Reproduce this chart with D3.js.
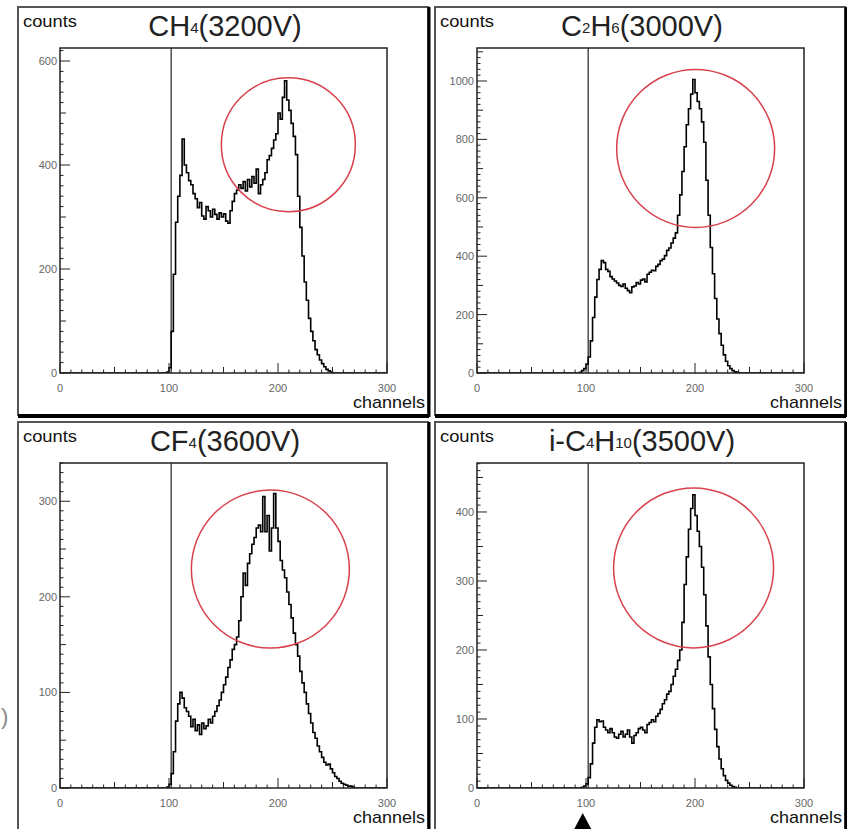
<!DOCTYPE html>
<html>
<head>
<meta charset="utf-8">
<script src="https://cdn.jsdelivr.net/npm/d3@7"></script>
<style>
  body { margin: 0; background: #fff; }
  svg { display: block; font-family: "Liberation Sans", Arial, Helvetica, sans-serif; }
</style>
</head>
<body>
<svg id="chart" width="847" height="829"></svg>
<script>
// Pulse-height spectra for four counting gases, 2-channel bins.
const binWidth = 2;
const channelDomain = [0, 300];
const xTickValues = [0, 100, 200, 300];
const thresholdChannel = 102;

// Counts per bin, starting at the channel given in *Start.
const ch4Start = 96;
const ch4Counts = [0, 2, 10, 80, 190, 290, 340, 380, 450, 400, 385, 370, 362, 345, 335, 318, 328, 302,
  296, 320, 312, 300, 315, 305, 296, 308, 300, 306, 292, 288, 312, 330, 345, 352, 362, 355, 368, 350,
  372, 358, 378, 365, 392, 345, 362, 372, 385, 410, 418, 432, 448, 460, 500, 488, 530, 562, 525, 505,
  480, 455, 420, 340, 280, 225, 175, 140, 105, 80, 62, 45, 35, 25, 18, 12, 7, 4, 2, 0];

const c2h6Start = 94;
const c2h6Counts = [2, 8, 15, 30, 55, 110, 190, 260, 320, 355, 385, 378, 355, 348, 330, 322, 315, 308,
  300, 296, 305, 290, 282, 275, 295, 298, 310, 305, 318, 322, 312, 338, 345, 352, 350, 365, 372, 385,
  390, 402, 420, 428, 445, 462, 480, 540, 610, 690, 775, 850, 905, 955, 1005, 960, 930, 905, 860, 790,
  660, 540, 430, 340, 255, 185, 135, 95, 62, 40, 25, 15, 8, 4, 2, 0];

const cf4Start = 96;
const cf4Counts = [0, 1, 4, 15, 38, 70, 88, 100, 94, 84, 80, 75, 64, 72, 60, 66, 56, 68, 62, 65, 72,
  68, 75, 80, 86, 92, 100, 108, 116, 126, 134, 145, 150, 158, 175, 200, 225, 212, 235, 245, 255, 262,
  272, 275, 268, 305, 268, 285, 248, 272, 308, 272, 258, 238, 228, 220, 205, 192, 178, 162, 150, 138,
  122, 110, 100, 88, 78, 68, 58, 52, 44, 38, 32, 27, 24, 25, 20, 16, 12, 10, 7, 5, 4, 3, 2, 2, 1, 0];

const ic4h10Start = 96;
const ic4h10Counts = [1, 3, 6, 15, 35, 65, 88, 99, 96, 97, 88, 84, 80, 86, 80, 74, 72, 78, 82, 74, 78,
  84, 74, 65, 76, 80, 86, 88, 84, 80, 92, 95, 99, 96, 104, 108, 114, 122, 128, 136, 140, 150, 162, 172,
  185, 200, 240, 295, 335, 375, 405, 425, 395, 372, 350, 320, 280, 235, 190, 150, 115, 85, 60, 42, 28,
  18, 11, 7, 4, 2, 1, 0];

// Panel titles: [text, isSubscript]
const ch4Title = [["CH", 0], ["4", 1], ["(3200V)", 0]];
const c2h6Title = [["C", 0], ["2", 1], ["H", 0], ["6", 1], ["(3000V)", 0]];
const cf4Title = [["CF", 0], ["4", 1], ["(3600V)", 0]];
const ic4h10Title = [["i-C", 0], ["4", 1], ["H", 0], ["10", 1], ["(3500V)", 0]];

// Vertical ranges and tick labels of each panel
const yMaxima = [625, 1113, 340, 471];
const yTickLabels = [[0, 200, 400, 600], [0, 200, 400, 600, 800, 1000], [0, 100, 200, 300], [0, 100, 200, 300, 400]];

// Highlighted peak regions: centre (channel, counts)
const peakCircleChannel = [209.5, 200.6, 193, 198.7];
const peakCircleCounts = [439, 769, 229, 319];

const panels = [
  { title: ch4Title, start: ch4Start, counts: ch4Counts, col: 0, row: 0, r: 67 },
  { title: c2h6Title, start: c2h6Start, counts: c2h6Counts, col: 1, row: 0, r: 79 },
  { title: cf4Title, start: cf4Start, counts: cf4Counts, col: 0, row: 1, r: 79 },
  { title: ic4h10Title, start: ic4h10Start, counts: ic4h10Counts, col: 1, row: 1, r: 80 }
];

const svg = d3.select("#chart");
const frameX = [18, 435], frameY = [7, 422];
const frameW = 410, frameH = 408;
const plot = { left: 42, top: 41, width: 327, height: 325 };

panels.forEach((p, i) => {
  const g = svg.append("g").attr("transform", `translate(${frameX[p.col]},${frameY[p.row]})`);

  // pad frame: grey top/left, dark bottom/right
  g.append("rect").attr("x", 0).attr("y", 0).attr("width", frameW).attr("height", frameH)
    .attr("fill", "#fff").attr("stroke", "#555").attr("stroke-width", 2);
  g.append("line").attr("x1", 0).attr("x2", frameW + 1).attr("y1", frameH + 1).attr("y2", frameH + 1)
    .attr("stroke", "#000").attr("stroke-width", 4);
  g.append("line").attr("x1", frameW + 1).attr("x2", frameW + 1).attr("y1", 0).attr("y2", frameH + 2)
    .attr("stroke", "#000").attr("stroke-width", 3);

  const x = d3.scaleLinear().domain(channelDomain).range([plot.left, plot.left + plot.width]);
  const y = d3.scaleLinear().domain([0, yMaxima[i]]).range([plot.top + plot.height, plot.top]);

  const clipId = "clip" + i;
  g.append("clipPath").attr("id", clipId).append("rect")
    .attr("x", plot.left).attr("y", plot.top).attr("width", plot.width).attr("height", plot.height);

  // threshold marker
  g.append("line")
    .attr("x1", x(thresholdChannel)).attr("x2", x(thresholdChannel))
    .attr("y1", y(0)).attr("y2", plot.top)
    .attr("stroke", "#333").attr("stroke-width", 1.3);

  // histogram as a step line
  const pts = [[0, 0]];
  p.counts.forEach((c, k) => pts.push([p.start + k * binWidth, c]));
  pts.push([p.start + p.counts.length * binWidth, 0]);
  pts.push([channelDomain[1], 0]);
  const line = d3.line().x(d => x(d[0])).y(d => y(d[1])).curve(d3.curveStepAfter);
  g.append("path").attr("d", line(pts)).attr("fill", "none")
    .attr("stroke", "#000").attr("stroke-width", 1.6).attr("clip-path", `url(#${clipId})`);

  // peak circle
  g.append("circle").attr("cx", x(peakCircleChannel[i])).attr("cy", y(peakCircleCounts[i]))
    .attr("r", p.r).attr("fill", "none").attr("stroke", "#d8404c").attr("stroke-width", 1.5);

  // axes box
  g.append("rect").attr("x", plot.left).attr("y", plot.top).attr("width", plot.width).attr("height", plot.height)
    .attr("fill", "none").attr("stroke", "#222").attr("stroke-width", 1.5);

  // x ticks (inside, pointing up)
  const xMinor = d3.range(0, 301, 10);
  g.append("g").selectAll("line").data(xMinor).join("line")
    .attr("x1", d => x(d)).attr("x2", d => x(d))
    .attr("y1", y(0)).attr("y2", d => y(0) - (d % 100 === 0 ? 10 : d % 50 === 0 ? 6 : 3.5))
    .attr("stroke", "#222").attr("stroke-width", 1);
  g.append("g").selectAll("text").data(xTickValues).join("text")
    .attr("x", d => x(d)).attr("y", y(0) + 19)
    .attr("text-anchor", "middle").attr("font-size", 11).attr("fill", "#666")
    .text(d => d);

  // y ticks (inside, pointing right)
  const major = yTickLabels[i][1];
  const yMinor = d3.range(0, yMaxima[i] + 0.001, major / 10);
  g.append("g").selectAll("line").data(yMinor).join("line")
    .attr("x1", plot.left).attr("x2", (d, k) => plot.left + (k % 10 === 0 ? 10 : k % 5 === 0 ? 6 : 3.5))
    .attr("y1", d => y(d)).attr("y2", d => y(d))
    .attr("stroke", "#222").attr("stroke-width", 1);
  g.append("g").selectAll("text").data(yTickLabels[i]).join("text")
    .attr("x", plot.left - 3).attr("y", d => y(d) + 4)
    .attr("text-anchor", "end").attr("font-size", 11).attr("fill", "#666")
    .text(d => d);

  // axis titles
  g.append("text").attr("x", 5).attr("y", 20).attr("font-size", 16).attr("fill", "#111")
    .attr("textLength", 54).attr("lengthAdjust", "spacingAndGlyphs").text("counts");
  g.append("text").attr("x", frameW - 75).attr("y", 401)
    .attr("font-size", 17).attr("fill", "#111")
    .attr("textLength", 72).attr("lengthAdjust", "spacingAndGlyphs").text("channels");

  // panel title
  const t = g.append("text").attr("x", frameW / 2 + 2).attr("y", 29)
    .attr("text-anchor", "middle").attr("font-size", 29).attr("fill", "#222");
  let shifted = false;
  p.title.forEach(([s, sub]) => {
    const ts = t.append("tspan").text(s);
    if (sub) { ts.attr("font-size", 15).attr("dy", shifted ? 0 : -3); shifted = true; }
    else if (shifted) { ts.attr("dy", 3); shifted = false; }
  });
});

// pointer under the lower-right channel axis
{
  const x4 = d3.scaleLinear().domain(channelDomain).range([frameX[1] + plot.left, frameX[1] + plot.left + plot.width]);
  const ax = x4(97);
  svg.append("path").attr("d", `M${ax},813 L${ax - 9},830 L${ax + 9},830 Z`).attr("fill", "#000");
}

// small bracket mark left of the lower-left panel
svg.append("text").attr("x", 1).attr("y", 724).attr("font-size", 22).attr("fill", "#888").text(")");
</script>
</body>
</html>
